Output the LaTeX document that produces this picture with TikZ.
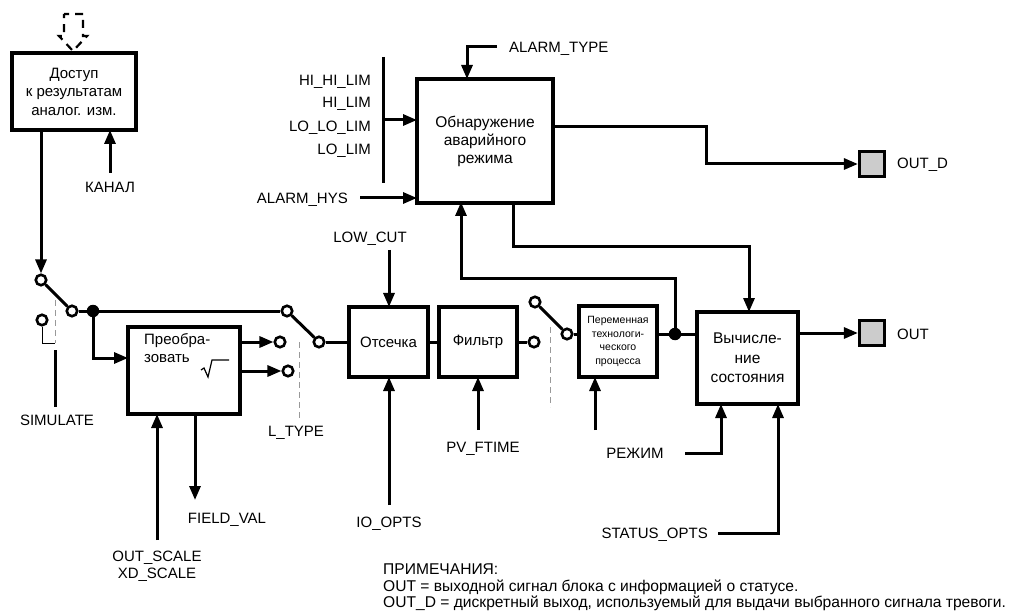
\documentclass[tikz,border=0pt]{standalone}
\usepackage{fontspec}
\setmainfont{Liberation Sans}
\usetikzlibrary{arrows.meta}
\begin{document}
\begin{tikzpicture}[x=1pt,y=-1pt,
  ln/.style={line width=3pt},
  blk/.style={draw, line width=3.2pt, inner sep=0pt, outer sep=0pt, align=center},
  arr/.style={ln, -{Triangle[length=14pt,width=11pt]}},
  lbl/.style={font=\fontsize{15}{18}\selectfont, inner sep=0pt, text height=10.7pt, text depth=0pt},
  btxt/.style={font=\fontsize{15}{18.5}\selectfont},
  cont/.style={circle, draw, line width=2.6pt, fill=white, minimum size=10.5pt, inner sep=0pt},
  jn/.style={circle, fill, minimum size=12.5pt, inner sep=0pt},
  act/.style={dash pattern=on 6pt off 4pt, black!40, line width=0.9pt},
  outsq/.style={draw, line width=3.2pt, fill=black!20, minimum size=25pt, inner sep=0pt},
  note/.style={font=\fontsize{15.6}{16}\selectfont, inner sep=0pt, anchor=base west}
]
\useasboundingbox (0,0) rectangle (1025,612);

% blocks
\node[blk, btxt, minimum width=124pt, minimum height=77pt] (acc) at (74,91.5) {Доступ\\к результатам\\аналог. изм.};
\node[blk, minimum width=112pt, minimum height=87pt] (conv) at (184,370.5) {};
\node[blk, btxt, minimum width=79pt, minimum height=70pt] (cut) at (388.5,342) {Отсечка};
\node[blk, btxt, minimum width=78pt, minimum height=70pt] (filt) at (478,342) {Фильтр};
\node[blk, font=\fontsize{10.5}{13.5}\selectfont, minimum width=78pt, minimum height=71pt] (pv) at (618,341.5) {Переменная\\технологи-\\ческого\\процесса};
\node[blk, font=\fontsize{15.5}{18}\selectfont, minimum width=136pt, minimum height=124pt] (alarm) at (485,141) {Обнаружение\\аварийного\\режима};
\node[blk, font=\fontsize{15.5}{19.5}\selectfont, minimum width=101pt, minimum height=92pt] (calc) at (747.5,358) {Вычисле-\\ние\\состояния};
\node[outsq] (outd) at (872,164) {};
\node[outsq] (out) at (872,333) {};

% text inside conversion block
\node[btxt, anchor=north west, align=left, inner sep=0pt] (convtxt) at (144,333) {Преобра-\\зовать};
\draw[line width=1.2pt] (201,370) -- (204,368) -- (208,377) -- (212,360) -- (229,360);

% top dashed arrow
\draw[line width=2.2pt, dash pattern=on 8pt off 6pt, dash phase=3pt] (64,14) -- (83,14) -- (83,36) -- (87,36) -- (73,51) -- (59,36) -- (64,36) -- cycle;

% switch contacts and junctions
\node[cont] (c1) at (41,280) {};
\node[cont] (c2) at (72,311) {};
\node[cont] (c3) at (42,320) {};
\node[jn] (j1) at (93,311) {};
\node[cont] (c4) at (287,311) {};
\node[cont] (c5) at (319,342) {};
\node[cont] (c6) at (280,342) {};
\node[cont] (c7) at (288,371) {};
\node[cont] (c8) at (534,342) {};
\node[cont] (c9) at (535,302) {};
\node[cont] (c10) at (567,334) {};
\node[jn] (j2) at (675,334) {};

% coordinates
\coordinate (convin) at (128,358);
\coordinate (simA) at (42,343);
\coordinate (simB) at (55,343);
\coordinate (up1) at (675,279);
\coordinate (up2) at (461,279);
\coordinate (up3) at (461,202);
\coordinate (dn1) at (513,202);
\coordinate (dn2) at (513,247);
\coordinate (dn3) at (749,247);
\coordinate (dn4) at (749,312);
\coordinate (od1) at (553,127);
\coordinate (od2) at (706,127);
\coordinate (od3) at (706,164);

% main path
\draw[arr] (acc.south -| c1) -- (c1);
\draw[ln] (c1) -- (c2);
\draw[ln] (c2) -- (j1) -- (c4);
\draw[ln] (c4) -- (c5);
\draw[arr] (j1) |- (convin);
\draw[arr] (conv.east |- c6) -- (c6);
\draw[arr] (conv.east |- c7) -- (c7);
\draw[ln] (c5) -- (cut.west);
\draw[ln] (cut.east) -- (filt.west);
\draw[ln] (filt.east) -- (c8);
\draw[ln] (c9) -- (c10);
\draw[ln] (c10) -- (pv.west |- c10);
\draw[ln] (pv.east |- j2) -- (j2);
\draw[ln] (j2) -- (calc.west |- j2);
\draw[arr] (j2) -- (up1) -- (up2) -- (up3);
\draw[arr] (dn1) -- (dn2) -- (dn3) -- (dn4);
\draw[arr] (od1) -- (od2) -- (od3) -- (outd.west);
\draw[arr] (calc.east |- out) -- (out.west);

% simulate
\draw[line width=1pt] (c3.south) -- (simA) -- (simB);
\draw[act] (55,300) -- (simB);
\coordinate (simt) at (55,350);
\coordinate (simb) at (55,407);
\draw[ln] (simt) -- (simb);
\draw[act] (299,342) -- (299,420);
\draw[act] (550,327) -- (550,407);

% labels and inputs
\node[lbl] (lsim) at (57,420) {SIMULATE};
\node[lbl] (ltype) at (296,431) {L\_TYPE};
\node[lbl] (lkan) at (110,187) {КАНАЛ};
\coordinate (kan) at (110,173);
\draw[arr] (kan) -- (acc.south -| kan);

\node[lbl] (lsc1) at (157,556) {OUT\_SCALE};
\node[lbl] (lsc2) at (157,573) {XD\_SCALE};
\coordinate (sc) at (157,540);
\draw[arr] (sc) -- (conv.south -| sc);
\node[lbl] (lfv) at (227,518) {FIELD\_VAL};
\coordinate (fv) at (195,500);
\draw[arr] (conv.south -| fv) -- (fv);

\node[lbl] (llc) at (370,237) {LOW\_CUT};
\coordinate (lc) at (389,250);
\draw[arr] (lc) -- (cut.north -| lc);
\node[lbl] (lio) at (389,522) {IO\_OPTS};
\coordinate (io) at (389,505);
\draw[arr] (io) -- (cut.south -| io);
\node[lbl] (lpf) at (483,447) {PV\_FTIME};
\coordinate (pf) at (478,430);
\draw[arr] (pf) -- (filt.south -| pf);
\coordinate (pvi) at (595,430);
\draw[arr] (pvi) -- (pv.south -| pvi);

\node[lbl] (lmode) at (635,453) {РЕЖИМ};
\coordinate (m1) at (685,453);
\coordinate (m2) at (721,453);
\draw[arr] (m1) -- (m2) -- (calc.south -| m2);
\node[lbl, anchor=east] (lst) at (708,533) {STATUS\_OPTS};
\coordinate (s1) at (718,533);
\coordinate (s2) at (778,533);
\draw[arr] (s1) -- (s2) -- (calc.south -| s2);

\node[lbl, anchor=west] (lod) at (897,163) {OUT\_D};
\node[lbl, anchor=west] (lout) at (897,334) {OUT};

\node[lbl, anchor=west] (lat) at (509,47) {ALARM\_TYPE};
\coordinate (at1) at (497,47);
\coordinate (at2) at (467,47);
\draw[arr] (at1) -- (at2) -- (alarm.north -| at2);

\coordinate (bar1) at (383,57);
\coordinate (bar2) at (383,183);
\coordinate (bar3) at (383,120);
\draw[ln] (bar1) -- (bar2);
\draw[arr] (bar3) -- (alarm.west |- bar3);
\node[lbl, anchor=east] (l1) at (371,80) {HI\_HI\_LIM};
\node[lbl, anchor=east] (l2) at (371,102) {HI\_LIM};
\node[lbl, anchor=east] (l3) at (371,126) {LO\_LO\_LIM};
\node[lbl, anchor=east] (l4) at (371,149) {LO\_LIM};
\node[lbl, anchor=east] (lhys) at (348,198) {ALARM\_HYS};
\coordinate (hy) at (360,198);
\draw[arr] (hy) -- (alarm.west |- hy);

% notes
\node[note] (n1) at (383,574) {ПРИМЕЧАНИЯ:};
\node[note] (n2) at (383,591) {OUT = выходной сигнал блока с информацией о статусе.};
\node[note] (n3) at (383,607) {OUT\_D = дискретный выход, используемый для выдачи выбранного сигнала тревоги.};
\end{tikzpicture}
\end{document}
